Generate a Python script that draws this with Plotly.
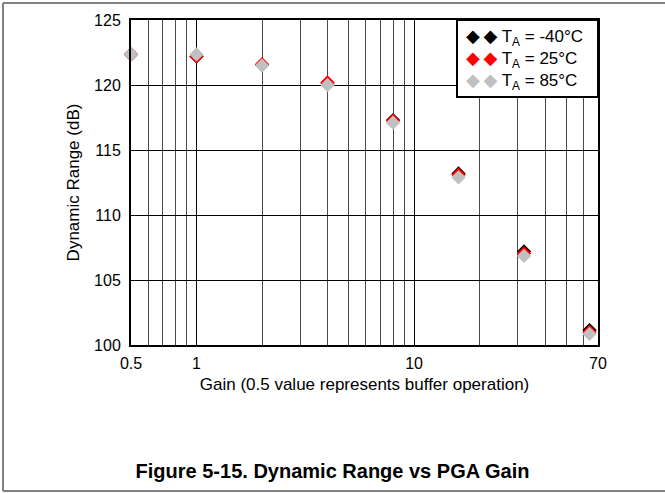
import plotly.graph_objects as go

# ---- data ----
gain = [0.5, 1, 2, 4, 8, 16, 32, 64]
dr_m40 = [122.35, 122.2, 121.55, 120.15, 117.3, 113.2, 107.2, 101.15]
dr_25 = [122.35, 122.2, 121.6, 120.2, 117.25, 113.1, 107.05, 101.0]
dr_85 = [122.35, 122.35, 121.5, 120.0, 117.1, 112.9, 106.85, 100.85]

series_names = ["T<sub>A</sub> = -40°C", "T<sub>A</sub> = 25°C", "T<sub>A</sub> = 85°C"]
series_colors = ["#000000", "#FF0000", "#C0C0C0"]

x_major_vals = [0.5, 1, 10, 70]
x_major_text = ["0.5", "1", "10", "70"]
x_minor_vals = [0.6, 0.7, 0.8, 0.9, 2, 3, 4, 5, 6, 7, 8, 9, 20, 30, 40, 50, 60]
y_ticks = [100, 105, 110, 115, 120, 125]

FONT = "Liberation Sans, Arial, sans-serif"

fig = go.Figure()
for name, ys, col in zip(series_names, [dr_m40, dr_25, dr_85], series_colors):
    fig.add_trace(go.Scatter(
        x=gain, y=ys, mode="markers", name=name,
        marker=dict(symbol="diamond", size=11, color=col, line=dict(width=0)),
        showlegend=False, cliponaxis=False,
    ))

fig.update_layout(
    width=665, height=493,
    margin=dict(l=131, r=67, t=20, b=148),
    paper_bgcolor="white", plot_bgcolor="white",
    font=dict(family=FONT, size=16, color="black"),
    title=dict(text="<b>Figure 5-15. Dynamic Range vs PGA Gain</b>",
               x=0.5, xref="container", xanchor="center",
               y=1 - 471 / 493, yref="container", yanchor="middle",
               font=dict(family=FONT, size=20, color="black")),
)

fig.update_xaxes(
    type="log", range=[-0.30103, 1.845098],
    tickmode="array", tickvals=x_major_vals, ticktext=x_major_text,
    showgrid=True, gridcolor="#000000", gridwidth=1,
    minor=dict(tickvals=x_minor_vals, showgrid=True, gridcolor="#4a4a4a", gridwidth=1, ticks=""),
    showline=True, linecolor="black", linewidth=2, mirror=True,
    ticks="", zeroline=False, ticklabelstandoff=3,
    title=dict(text="Gain (0.5 value represents buffer operation)", standoff=7,
               font=dict(size=17)),
    tickfont=dict(size=16),
)
fig.update_yaxes(
    range=[100, 125], tickmode="array", tickvals=y_ticks,
    showgrid=True, gridcolor="#000000", gridwidth=1,
    showline=True, linecolor="black", linewidth=2, mirror=True,
    ticks="", zeroline=False, ticklabelstandoff=5,
    title=dict(text="Dynamic Range (dB)", standoff=10, font=dict(size=17)),
    tickfont=dict(size=16),
)

# legend box (drawn manually to show paired diamonds)
lx0 = (457 - 131) / 467
ly0 = (345 - 97) / 325
fig.add_shape(type="rect", xref="paper", yref="paper", x0=lx0, x1=1.0, y0=ly0, y1=1.0,
              fillcolor="white", line=dict(color="black", width=2), layer="above")
legend_lines = [
    f"<span style='color:{col};font-family:DejaVu Sans;font-size:18px'>◆\u2009◆</span> {name}"
    for name, col in zip(series_names, series_colors)
]
fig.add_annotation(
    xref="paper", yref="paper", x=(464 - 131) / 467, y=(345 - 59) / 325,
    xanchor="left", yanchor="middle", align="left", showarrow=False,
    text="<br>".join(legend_lines),
    font=dict(family=FONT, size=17, color="black"),
)

# page frame lines (gray)
fx0 = (3 - 131) / 467
fx1 = (665 - 131) / 467
fig.add_shape(type="line", xref="paper", yref="paper", x0=fx0, x1=fx1,
              y0=(345 - 3) / 325, y1=(345 - 3) / 325, line=dict(color="#808080", width=2))
fig.add_shape(type="line", xref="paper", yref="paper", x0=fx0, x1=fx1,
              y0=(345 - 491) / 325, y1=(345 - 491) / 325, line=dict(color="#808080", width=2))
fig.add_shape(type="line", xref="paper", yref="paper", x0=fx0, x1=fx0,
              y0=(345 - 3) / 325, y1=(345 - 491) / 325, line=dict(color="#808080", width=2))

fig.write_html("out.html", config={"displayModeBar": False},
               post_script="document.body.style.margin='0';document.body.style.overflow='hidden';")
